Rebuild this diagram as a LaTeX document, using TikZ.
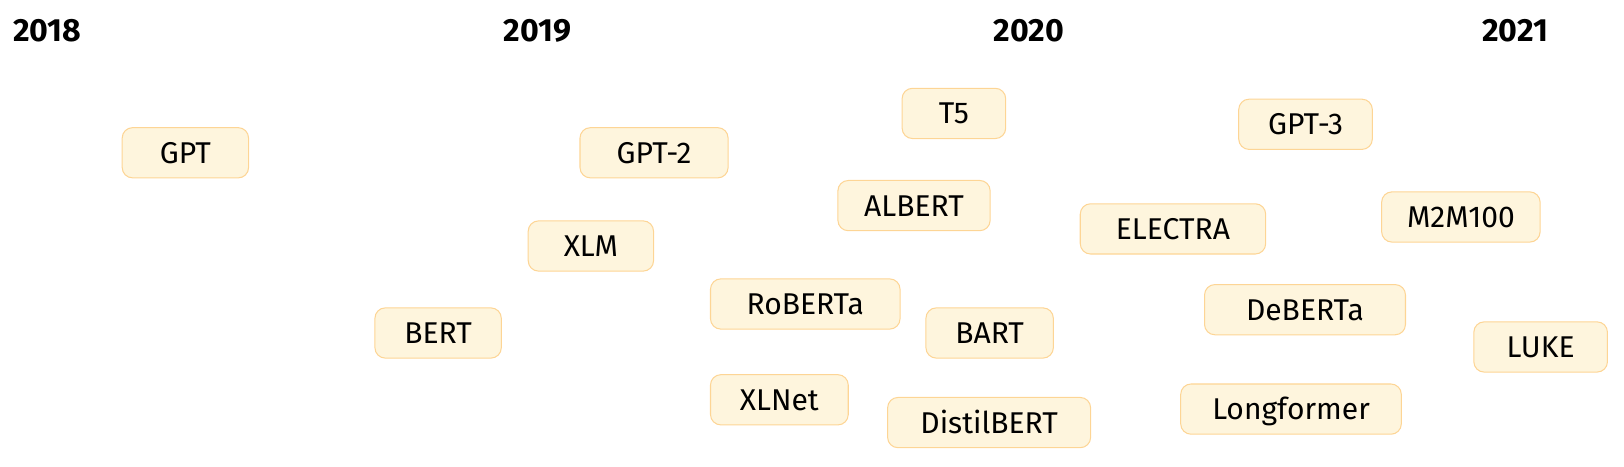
\documentclass[tikz,border=0pt]{standalone}
\usepackage{fontspec}
\setmainfont{Fira Sans}
\definecolor{modelfill}{HTML}{FEF5DD}
\definecolor{modeldraw}{HTML}{FDD595}
\tikzset{
  model/.style={draw=modeldraw,fill=modelfill,line width=1pt,rounded corners=10pt,
    minimum height=48.5pt,inner sep=0pt,text height=20.3pt,text depth=0pt,
    font=\fontsize{29}{34}\selectfont},
  year/.style={anchor=base west,inner sep=0pt,font=\fontsize{31}{36}\selectfont\bfseries}
}
\begin{document}
\begin{tikzpicture}[x=1pt,y=-1pt]
\useasboundingbox (0,0) rectangle (1568,450);
\node[year] (y18) at (12.5,40.5) {2018};
\node[year] (y19) at (486,40.5) {2019};
\node[year] (y20) at (959,40.5) {2020};
\node[year] (y21) at (1431,40.5) {2021};
\node[model,minimum width=122pt] (gpt) at (179,147.5) {GPT};
\node[model,minimum width=122pt] (bert) at (423,321.5) {BERT};
\node[model,minimum width=143pt] (gpttwo) at (631.5,147.5) {GPT-2};
\node[model,minimum width=121pt] (xlm) at (570.5,237.5) {XLM};
\node[model,minimum width=183pt] (roberta) at (777.5,293.5) {RoBERTa};
\node[model,minimum width=133pt] (xlnet) at (752.5,386) {XLNet};
\node[model,minimum width=100pt] (tfive) at (921,109.5) {T5};
\node[model,minimum width=147pt] (albert) at (882.5,198.5) {ALBERT};
\node[model,minimum width=123pt] (bart) at (955.5,321.5) {BART};
\node[model,minimum width=196pt] (distil) at (955,408) {DistilBERT};
\node[model,minimum width=129pt] (gptthree) at (1260.5,120) {GPT-3};
\node[model,minimum width=179pt] (electra) at (1132.5,221) {ELECTRA};
\node[model,minimum width=194pt] (deberta) at (1260,299) {DeBERTa};
\node[model,minimum width=213pt] (longf) at (1246.5,395) {Longformer};
\node[model,minimum width=153pt] (mtom) at (1410.5,209.5) {M2M100};
\node[model,minimum width=129pt] (luke) at (1487.5,335) {LUKE};
\end{tikzpicture}
\end{document}
